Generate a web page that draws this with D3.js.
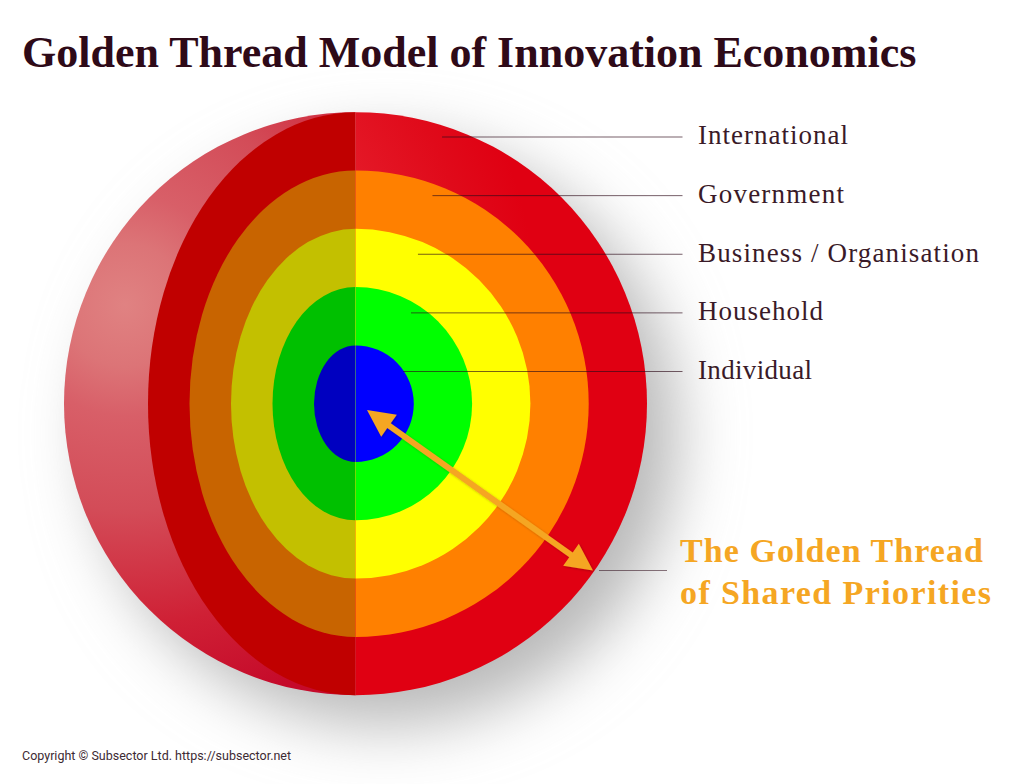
<!DOCTYPE html>
<html lang="en">

<head>
    <meta charset="utf-8">
    <script src="https://cdnjs.cloudflare.com/ajax/libs/d3/7.8.5/d3.min.js"></script>
    <style>
        html, body { margin: 0; padding: 0; background: #fff; }
        svg { display: block; }
        text { font-family: "Liberation Serif", serif; fill: #2e0a18; }
    </style>
</head>

<body>
    <script>
        var w = 1024;
        var h = 784;

        var title = "Golden Thread Model of Innovation Economics";
        var footer = "Copyright © Subsector Ltd. https://subsector.net";
        var calloutLines = ["The Golden Thread", "of Shared Priorities"];

        // outermost ring first
        var layers = ["International", "Government", "Business / Organisation", "Household", "Individual"];
        var outerRadius = [5, 4, 3, 2, 1];
        var frontColors = ["#e00012", "#ff8000", "#ffff00", "#00ff00", "#0000ff"];
        var cutColors = ["#c00000", "#c86400", "#c3c000", "#00c000", "#0000c0"];
        // where each leader starts, as a fraction of its ring's radius
        var leaderReach = [0.297, 0.33, 0.357, 0.476, 0.82];

        var gold = "#f5a623";

        var cx = 355.5, cy = 403.7;

        var r = d3.scaleLinear().domain([0, 5]).range([0, 291.5]);
        var cutWidth = d3.scaleLinear().domain([0, 5]).range([0, 207.5]);
        var labelY = d3.scalePoint().domain(layers).range([137, 371.5]);

        // widths measured on the picture, the substitute serif is set to fill them
        var labelWidth = { "International": 150, "Government": 146, "Business / Organisation": 281, "Household": 125, "Individual": 114 };
        var calloutWidth = [303, 311];

        var svg = d3.select("body").append("svg")
            .attr("width", w)
            .attr("height", h);

        var defs = svg.append("defs");

        defs.append("filter").attr("id", "shadow")
            .attr("x", "-40%").attr("y", "-40%").attr("width", "180%").attr("height", "180%")
            .append("feGaussianBlur").attr("stdDeviation", 32);

        var arrowShadow = defs.append("filter").attr("id", "arrowShadow");
        arrowShadow.append("feDropShadow")
            .attr("dx", 1).attr("dy", 1).attr("stdDeviation", 1.2)
            .attr("flood-color", "#000").attr("flood-opacity", 0.25);

        defs.append("clipPath").attr("id", "leftHalf")
            .append("rect").attr("x", 0).attr("y", 0).attr("width", cx).attr("height", h);
        defs.append("clipPath").attr("id", "rightHalf")
            .append("rect").attr("x", cx).attr("y", 0).attr("width", w - cx).attr("height", h);

        function radial(id, stops) {
            var g = defs.append("radialGradient").attr("id", id)
                .attr("gradientUnits", "userSpaceOnUse")
                .attr("cx", 125).attr("cy", 305).attr("r", 410);
            stops.forEach(function (s) {
                g.append("stop").attr("offset", s[0]).attr("stop-color", s[1]);
            });
        }
        radial("crescent", [[0, "#e08282"], [0.15, "#dc7477"], [0.27, "#d85f68"], [0.5, "#d34c58"], [0.78, "#cf2035"], [1, "#c50a2a"]]);
        radial("frontRed", [[0, "#e51c2a"], [0.6, "#e51c2a"], [0.85, "#e00a1a"], [1, "#e00012"]]);

        // soft shadow behind the ball
        svg.append("circle")
            .attr("cx", cx + 30).attr("cy", cy + 30)
            .attr("r", r(5))
            .attr("fill", "#b8b8b8")
            .attr("filter", "url(#shadow)");

        var ball = svg.append("g");

        ball.append("circle")
            .attr("cx", cx).attr("cy", cy).attr("r", r(5))
            .attr("fill", "url(#crescent)")
            .attr("clip-path", "url(#leftHalf)");

        ball.append("g").attr("clip-path", "url(#leftHalf)")
            .selectAll("ellipse")
            .data(outerRadius)
            .enter()
            .append("ellipse")
            .attr("cx", cx).attr("cy", cy)
            .attr("rx", d => cutWidth(d))
            .attr("ry", d => r(d))
            .attr("fill", (d, i) => cutColors[i]);

        ball.append("g").attr("clip-path", "url(#rightHalf)")
            .selectAll("circle")
            .data(outerRadius)
            .enter()
            .append("circle")
            .attr("cx", cx).attr("cy", cy)
            .attr("r", d => r(d))
            .attr("fill", (d, i) => i == 0 ? "url(#frontRed)" : frontColors[i]);

        // leaders and labels
        svg.selectAll("line.leader")
            .data(layers)
            .enter()
            .append("line")
            .attr("class", "leader")
            .attr("x1", (d, i) => cx + r(outerRadius[i]) * leaderReach[i])
            .attr("x2", 682.5)
            .attr("y1", d => labelY(d))
            .attr("y2", d => labelY(d))
            .attr("stroke", "#2e0a18")
            .attr("stroke-opacity", 0.65)
            .attr("stroke-width", 1);

        svg.selectAll("text.layer")
            .data(layers)
            .enter()
            .append("text")
            .attr("class", "layer")
            .attr("x", 698)
            .attr("y", d => labelY(d) + 7.3)
            .attr("font-size", 27)
            .attr("textLength", d => labelWidth[d])
            .attr("lengthAdjust", "spacing")
            .style("fill", "#3a1a28")
            .text(d => d);

        // double headed arrow, tips
        var tipA = [367, 410], tipB = [593, 570.5];
        var dx = tipB[0] - tipA[0], dy = tipB[1] - tipA[1];
        var len = Math.sqrt(dx * dx + dy * dy);
        var ux = dx / len, uy = dy / len;
        var headLen = 27, headHalf = 13.5, shaftHalf = 3;
        var along = (t, s) => [tipA[0] + ux * t - uy * s, tipA[1] + uy * t + ux * s];
        var arrowLine = d3.line();

        svg.append("path")
            .attr("d", arrowLine([
                along(0, 0),
                along(headLen, headHalf), along(headLen, shaftHalf),
                along(len - headLen, shaftHalf), along(len - headLen, headHalf),
                along(len, 0),
                along(len - headLen, -headHalf), along(len - headLen, -shaftHalf),
                along(headLen, -shaftHalf), along(headLen, -headHalf)
            ]) + "Z")
            .attr("fill", gold)
            .attr("filter", "url(#arrowShadow)");

        svg.append("line")
            .attr("x1", 599).attr("x2", 667)
            .attr("y1", 570.5).attr("y2", 570.5)
            .attr("stroke", "#2e0a18")
            .attr("stroke-opacity", 0.55);

        svg.selectAll("text.callout")
            .data(calloutLines)
            .enter()
            .append("text")
            .attr("class", "callout")
            .attr("x", 680)
            .attr("y", (d, i) => 562 + i * 42)
            .attr("font-size", 34)
            .attr("font-weight", "bold")
            .attr("textLength", (d, i) => calloutWidth[i])
            .attr("lengthAdjust", "spacing")
            .style("fill", gold)
            .text(d => d);

        svg.append("text")
            .attr("x", 22)
            .attr("y", 66.5)
            .attr("font-size", 44)
            .attr("font-weight", "bold")
            .text(title);

        svg.append("text")
            .attr("x", 22)
            .attr("y", 760)
            .attr("font-size", 12.5)
            .style("font-family", "Roboto, sans-serif")
            .style("fill", "#3d2a33")
            .text(footer);
    </script>
</body>

</html>
